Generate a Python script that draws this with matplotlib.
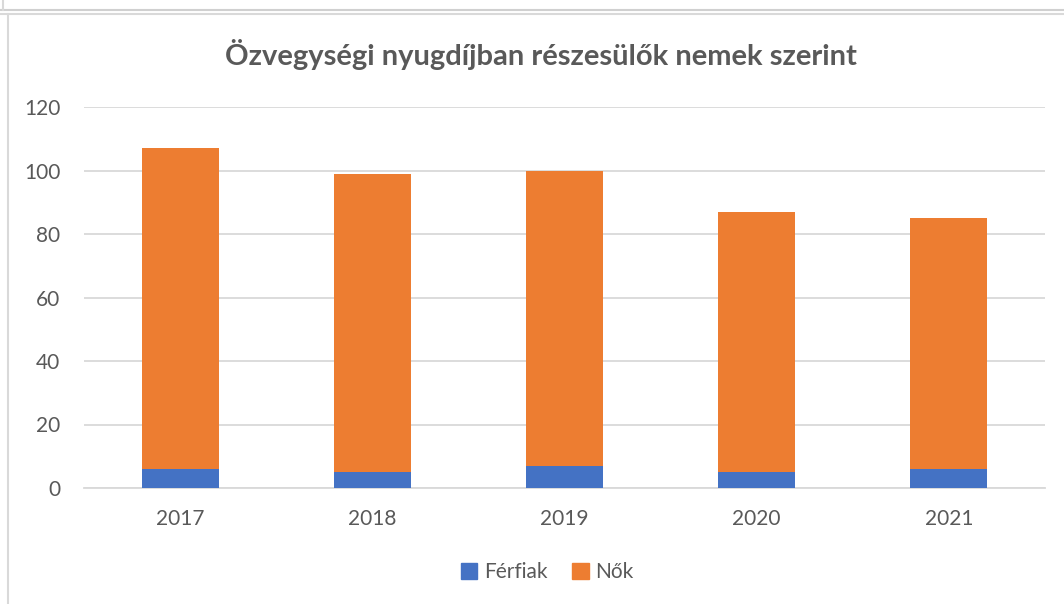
import numpy as np
import matplotlib.pyplot as plt
from matplotlib.lines import Line2D
from matplotlib.patches import Patch

years = ['2017', '2018', '2019', '2020', '2021']
ferfiak = [6, 5, 7, 5, 6]
nok = [101, 94, 93, 82, 79]

blue = '#4472C4'
orange = '#ED7D31'
grey_text = '#595959'

plt.rcParams['font.family'] = ['Lato', 'DejaVu Sans']

fig = plt.figure(figsize=(10.64, 6.04), dpi=100)
W, H = 1064, 604
ax = fig.add_axes([84 / W, 1 - 488 / H, (1045 - 84) / W, (488 - 107) / H])

x = np.arange(len(years))
ax.bar(x, ferfiak, width=0.4, color=blue, label='Férfiak', zorder=3)
ax.bar(x, nok, width=0.4, bottom=ferfiak, color=orange, label='Nők', zorder=3)

ax.set_xlim(-0.5, len(years) - 0.5)
ax.set_ylim(0, 120)
ax.set_yticks(range(0, 121, 20))
ax.set_xticks(x)
ax.set_xticklabels(years)
ax.grid(axis='y', color='#D9D9D9', linewidth=1.3, zorder=0)
for s in ['top', 'right', 'left']:
    ax.spines[s].set_visible(False)
ax.spines['bottom'].set_color('#D9D9D9')
ax.spines['bottom'].set_linewidth(1.3)
ax.tick_params(axis='both', length=0, labelsize=15, labelcolor=grey_text)
ax.tick_params(axis='x', pad=15)
ax.tick_params(axis='y', pad=17)

fig.text(541 / W, 1 - 55 / H, 'Özvegységi nyugdíjban részesülők nemek szerint',
         ha='center', va='center', fontsize=21, fontweight='bold', color=grey_text)

handles = [Patch(color=blue), Patch(color=orange)]
fig.legend(handles, ['Férfiak', 'Nők'], loc='center', bbox_to_anchor=(547 / W, 1 - 572 / H),
           ncol=2, frameon=False, fontsize=15, labelcolor=grey_text,
           handlelength=0.8, handleheight=0.8, handletextpad=0.3, columnspacing=1.2)

# chart frame lines
fig.add_artist(Line2D([0, 1], [1 - 10 / H, 1 - 10 / H], color='#D0D0D0', linewidth=1.5))
fig.add_artist(Line2D([0, 1], [1 - 13.5 / H, 1 - 13.5 / H], color='#D9D9D9', linewidth=1.5))
fig.add_artist(Line2D([8 / W, 8 / W], [0, 1 - 13.5 / H], color='#D9D9D9', linewidth=1.5))
fig.add_artist(Line2D([3 / W, 3 / W], [1 - 10 / H, 1], color='#D9D9D9', linewidth=1.5))

fig.savefig('out.png', dpi=100)
